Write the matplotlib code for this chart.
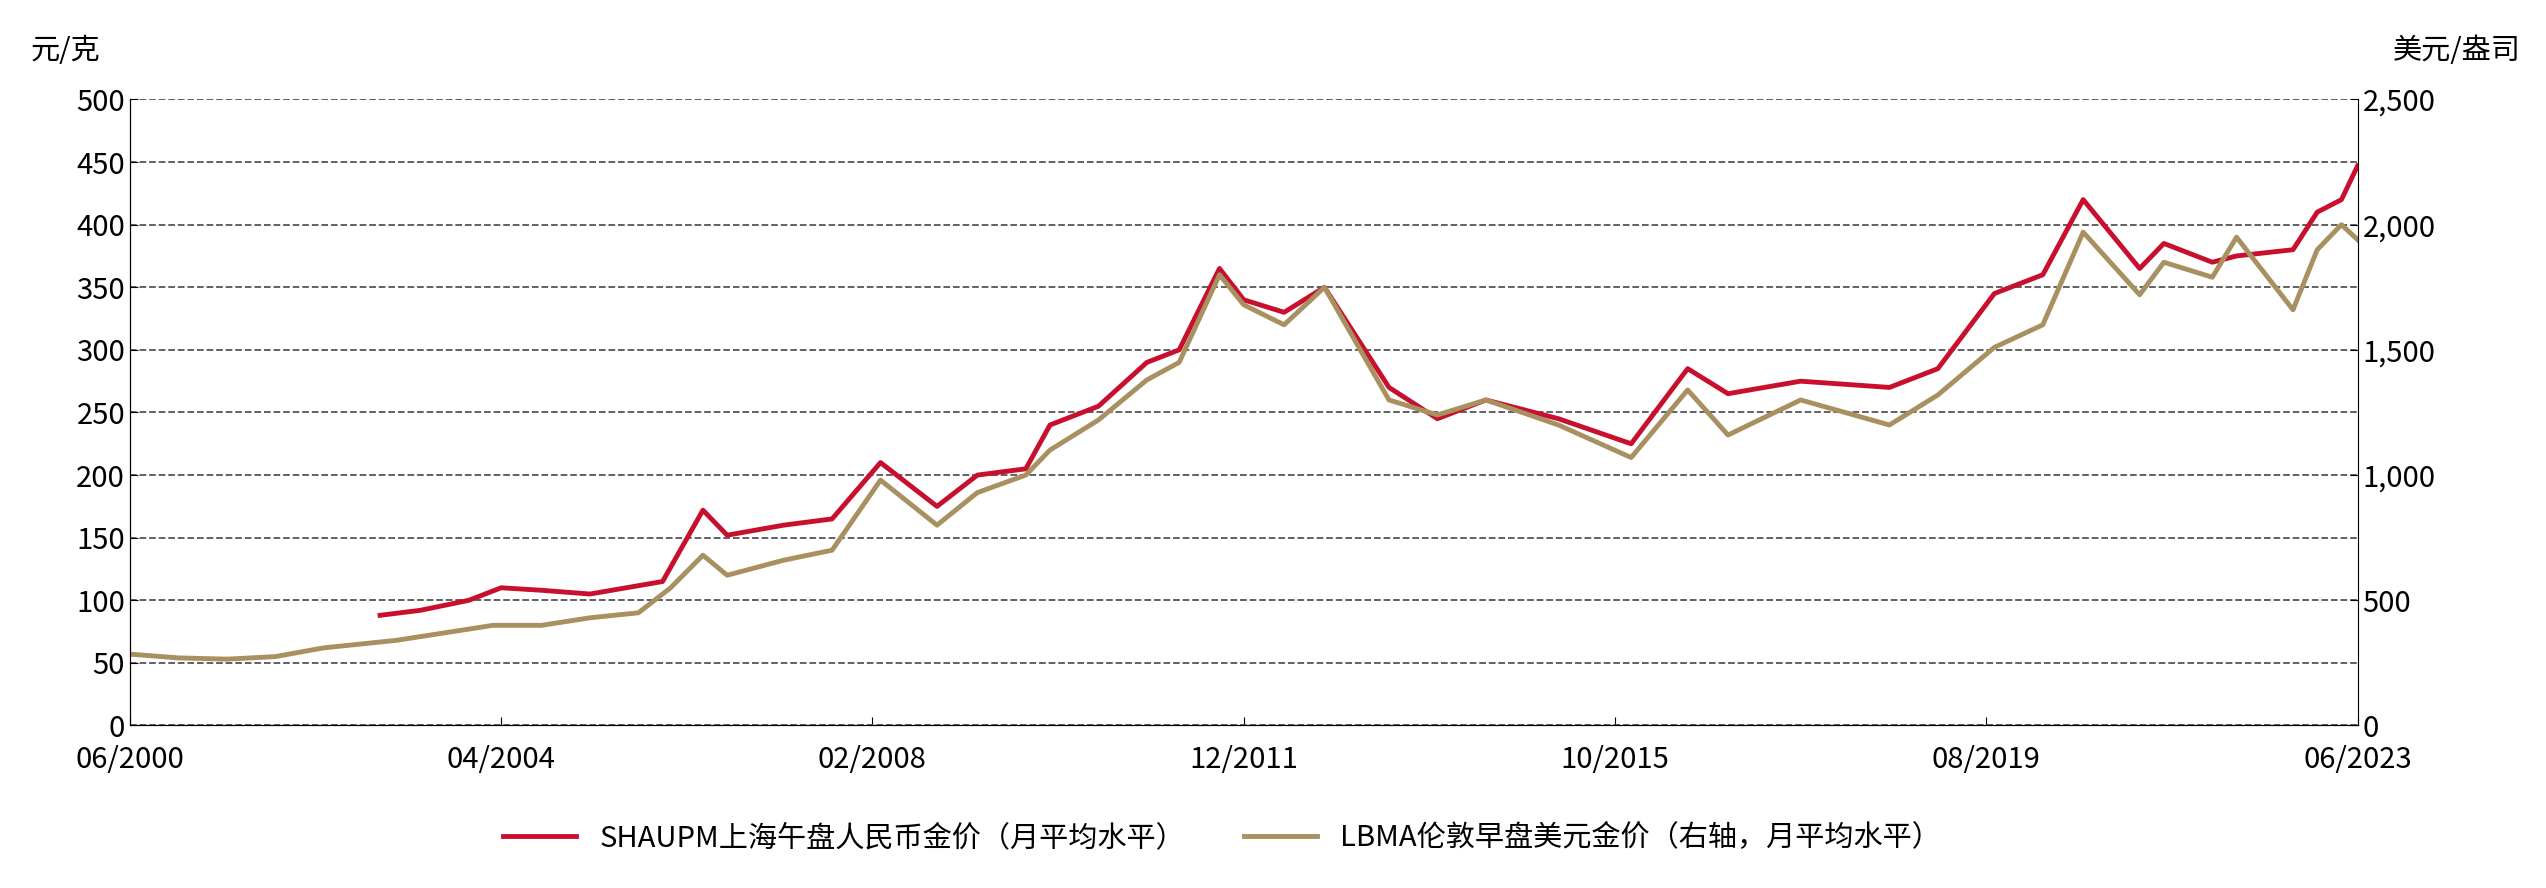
import matplotlib.pyplot as plt
import matplotlib.ticker as mticker

plt.rcParams['font.family'] = ['Noto Sans CJK SC', 'DejaVu Sans']

# (year, month)
lbma_dates = [(2000, 6), (2000, 12), (2001, 6), (2001, 12), (2002, 6), (2002, 12), (2003, 3), (2003, 9),
              (2004, 3), (2004, 9), (2005, 3), (2005, 9), (2006, 1), (2006, 5), (2006, 8), (2007, 3),
              (2007, 9), (2008, 3), (2008, 10), (2009, 3), (2009, 9), (2009, 12), (2010, 6), (2010, 12),
              (2011, 4), (2011, 9), (2011, 12), (2012, 5), (2012, 10), (2013, 6), (2013, 12), (2014, 6),
              (2015, 3), (2015, 12), (2016, 7), (2016, 12), (2017, 9), (2018, 8), (2019, 2), (2019, 9),
              (2020, 3), (2020, 8), (2021, 3), (2021, 6), (2021, 12), (2022, 3), (2022, 10), (2023, 1),
              (2023, 4), (2023, 6)]
lbma = [285, 270, 265, 275, 310, 330, 340, 370, 400, 400, 430, 450, 550, 680, 600, 660,
        700, 980, 800, 930, 1000, 1100, 1220, 1380, 1450, 1800, 1680, 1600, 1750, 1300, 1240, 1300,
        1200, 1070, 1340, 1160, 1300, 1200, 1320, 1510, 1600, 1970, 1720, 1850, 1790, 1950, 1660, 1900,
        2000, 1940]

sh_dates = [(2003, 1), (2003, 6), (2003, 12), (2004, 4), (2004, 9), (2005, 3), (2005, 12), (2006, 5),
            (2006, 8), (2007, 3), (2007, 9), (2008, 3), (2008, 10), (2009, 3), (2009, 9), (2009, 12),
            (2010, 6), (2010, 12), (2011, 4), (2011, 9), (2011, 12), (2012, 5), (2012, 10), (2013, 6),
            (2013, 12), (2014, 6), (2015, 3), (2015, 12), (2016, 7), (2016, 12), (2017, 9), (2018, 8),
            (2019, 2), (2019, 9), (2020, 3), (2020, 8), (2021, 3), (2021, 6), (2021, 12), (2022, 3),
            (2022, 10), (2023, 1), (2023, 4), (2023, 6)]
sh = [88, 92, 100, 110, 108, 105, 115, 172, 152, 160, 165, 210, 175, 200, 205, 240,
      255, 290, 300, 365, 340, 330, 350, 270, 245, 260, 245, 225, 285, 265, 275, 270,
      285, 345, 360, 420, 365, 385, 370, 375, 380, 410, 420, 447]

xticks = [(2000, 6), (2004, 4), (2008, 2), (2011, 12), (2015, 10), (2019, 8), (2023, 6)]


def mi(d):
    return (d[0] - 2000) * 12 + d[1] - 6


fig = plt.figure(figsize=(25.46, 8.88), dpi=100)
ax = fig.add_axes([0.051, 0.183, 0.875, 0.705])
ax2 = ax.twinx()

l1, = ax.plot([mi(d) for d in sh_dates], sh, color='#c8102e', lw=3.5)
l2, = ax2.plot([mi(d) for d in lbma_dates], lbma, color='#a89060', lw=3.5)

ax.set_xlim(0, mi((2023, 6)))
ax.set_ylim(0, 500)
ax2.set_ylim(0, 2500)
ax.set_yticks(range(0, 501, 50))
ax2.set_yticks(range(0, 2501, 500))
ax2.yaxis.set_major_formatter(mticker.FuncFormatter(lambda v, p: f'{int(v):,}'))
ax.set_xticks([mi(d) for d in xticks])
ax.set_xticklabels([f'{m:02d}/{y}' for y, m in xticks])
ax.grid(axis='y', ls='--', color='#555555', lw=1.3)
for a in (ax, ax2):
    a.tick_params(labelsize=21, length=6, direction='in')
    a.spines['top'].set_visible(False)
ax.spines['right'].set_visible(False)
ax.tick_params(axis='x', pad=14)

fig.text(0.012, 0.96, '元/克', fontsize=21, va='top')
fig.text(0.99, 0.96, '美元/盎司', fontsize=21, va='top', ha='right')
fig.legend([l1, l2], ['SHAUPM上海午盘人民币金价（月平均水平）', 'LBMA伦敦早盘美元金价（右轴，月平均水平）'],
           loc='lower center', bbox_to_anchor=(0.48, 0.01), ncol=2, frameon=False, fontsize=21,
           handlelength=2.5, columnspacing=2)
fig.savefig('out.png')
